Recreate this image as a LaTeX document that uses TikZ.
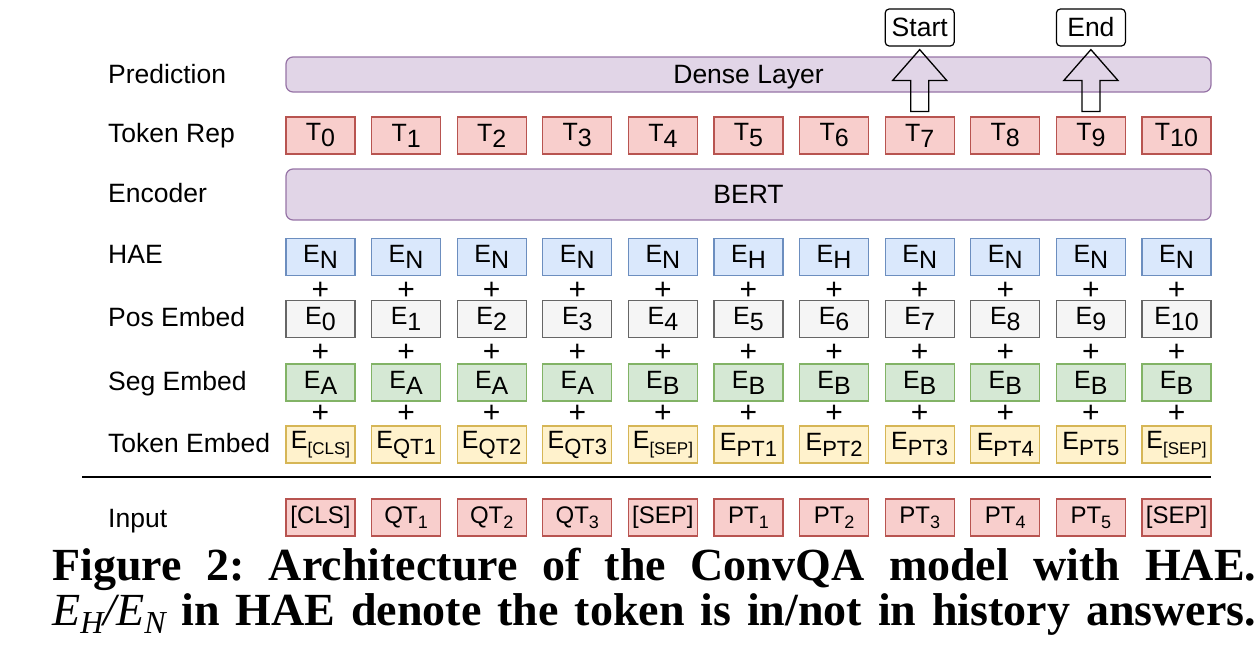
\documentclass[tikz,border=0pt]{standalone}
\usepackage{fontspec}
\setmainfont{Liberation Serif}
\setsansfont{Liberation Sans}
\usepackage{xcolor}
\usepackage{amsmath}
\usetikzlibrary{calc,
	positioning}
\definecolor{redfill}{HTML}{F8CECC}
\definecolor{redline}{HTML}{B85450}
\definecolor{bluefill}{HTML}{DAE8FC}
\definecolor{blueline}{HTML}{6C8EBF}
\definecolor{grayfill}{HTML}{F5F5F5}
\definecolor{grayline}{HTML}{666666}
\definecolor{greenfill}{HTML}{D5E8D4}
\definecolor{greenline}{HTML}{82B366}
\definecolor{yellowfill}{HTML}{FFF2CC}
\definecolor{yellowline}{HTML}{D6B656}
\definecolor{purplefill}{HTML}{E1D5E7}
\definecolor{purpleline}{HTML}{9673A6}
\newcommand{\lblfont}{\sffamily\fontsize{26.5}{30}\selectfont}
\newcommand{\boxfont}{\sffamily\fontsize{25}{28}\selectfont}
\newcommand{\infont}{\sffamily\fontsize{24}{28}\selectfont}
\newcommand{\capfont}{\rmfamily\bfseries\fontsize{46}{52}\selectfont}
\newcommand{\lo}[1]{\raisebox{-6pt}{#1}}
\newcommand{\lomd}[1]{\raisebox{-6pt}{\fontsize{22}{22}\selectfont #1}}
\newcommand{\losm}[1]{\raisebox{-6pt}{\fontsize{17}{17}\selectfont #1}}
\newcommand{\insub}[1]{\raisebox{-5pt}{\fontsize{18}{18}\selectfont #1}}
\newcommand{\capsub}[1]{\raisebox{-8pt}{\fontsize{32}{32}\selectfont #1}}
\frenchspacing

\begin{document}
\begin{tikzpicture}[x=1pt, y=-1pt,
	lbl/.style={anchor=base west, inner sep=0pt, font=\lblfont},
	tokbox/.style={draw, line width=1.2pt, minimum width=69pt, minimum height=37pt, inner sep=0pt, font=\boxfont},
	redbox/.style={tokbox, draw=redline, fill=redfill},
	bluebox/.style={tokbox, draw=blueline, fill=bluefill},
	graybox/.style={tokbox, draw=grayline, fill=grayfill},
	greenbox/.style={tokbox, draw=greenline, fill=greenfill},
	yellowbox/.style={tokbox, draw=yellowline, fill=yellowfill},
	inbox/.style={redbox, font=\infont},
	layerbox/.style={draw=purpleline, fill=purplefill, line width=1.2pt, rounded corners=7pt, minimum width=925pt, inner sep=0pt, font=\lblfont},
	outbox/.style={draw, fill=white, line width=1.2pt, rounded corners=4pt, minimum width=69pt, minimum height=37pt, inner sep=0pt, font=\lblfont},
	plus/.style={inner sep=0pt, font=\sffamily\fontsize{30}{30}\selectfont}]
	\useasboundingbox (0,0) rectangle (1259,648);
	\node[lbl] (lblpred) at (108,83) {Prediction};
	\node[lbl] (lblrep) at (108,142) {Token Rep};
	\node[lbl] (lblenc) at (108,202) {Encoder};
	\node[lbl] (lblhae) at (108,263) {HAE};
	\node[lbl] (lblpos) at (108,326) {Pos Embed};
	\node[lbl] (lblseg) at (108,390) {Seg Embed};
	\node[lbl] (lblemb) at (108,452) {Token Embed};
	\node[lbl] (lblin) at (108,527) {Input};
	\node[layerbox, minimum height=35pt, text height=20pt, text depth=3pt] (dense) at (748.5,74.5) {Dense Layer};
	\node[layerbox, minimum height=51pt] (bert) at (748.5,194.5) {BERT};
	\foreach \idx/\hae/\seg/\emb/\inp in {0/N/A/\losm{[CLS]}/{[CLS]},
		1/N/A/\lomd{QT1}/QT\insub{1},
		2/N/A/\lomd{QT2}/QT\insub{2},
		3/N/A/\lomd{QT3}/QT\insub{3},
		4/N/B/\losm{[SEP]}/{[SEP]},
		5/H/B/\lomd{PT1}/PT\insub{1},
		6/H/B/\lomd{PT2}/PT\insub{2},
		7/N/B/\lomd{PT3}/PT\insub{3},
		8/N/B/\lomd{PT4}/PT\insub{4},
		9/N/B/\lomd{PT5}/PT\insub{5},
		10/N/B/\losm{[SEP]}/{[SEP]}} {
		\pgfmathsetmacro{\cx}{320.5+\idx*85.6}
		\node[redbox] (t\idx) at (\cx,135.5) {T\lo{\idx}};
		\node[bluebox] (hae\idx) at (\cx,257) {E\lo{\hae}};
		\node[plus] (plusa\idx) at (\cx,291) {+};
		\node[graybox] (pos\idx) at (\cx,319) {E\lo{\idx}};
		\node[plus] (plusb\idx) at (\cx,353) {+};
		\node[greenbox] (seg\idx) at (\cx,382.5) {E\lo{\seg}};
		\node[plus] (plusc\idx) at (\cx,414) {+};
		\node[yellowbox] (emb\idx) at (\cx,444.5) {E\emb};
		\node[inbox] (in\idx) at (\cx,517.5) {\inp};
	}
	\node[outbox] (start) at (t7 |- 0,27.5) {Start};
	\node[outbox] (end) at (t9 |- 0,27.5) {End};
	\draw[line width=1.3pt] ($(t7.north)+(-9,-5)$) -- ++(0,-31) -- ++(-18,0) -- ($(start.south)+(0,3)$) -- ($(t7.north)+(27,-36)$) -- ++(-18,0) -- ++(0,31) -- cycle;
	\draw[line width=1.3pt] ($(t9.north)+(-9,-5)$) -- ++(0,-31) -- ++(-18,0) -- ($(end.south)+(0,3)$) -- ($(t9.north)+(27,-36)$) -- ++(-18,0) -- ++(0,31) -- cycle;
	\draw[line width=1.3pt] (82,477) -- (1211,477);
	\node[anchor=base west, inner sep=0pt, font=\capfont] (capa) at (52,580) {\makebox[1204pt][s]{Figure 2: Architecture of the ConvQA model with HAE.}};
	\node[anchor=base west, inner sep=0pt, font=\capfont] (capb) at (52,625) {\makebox[1204pt][s]{{\mdseries\itshape E\capsub{H}/E\capsub{N}} in HAE denote the token is in/not in history answers.}};
\end{tikzpicture}
\end{document}
